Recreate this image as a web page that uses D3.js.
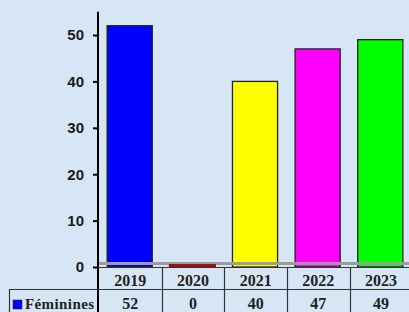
<!DOCTYPE html>
<html>
<head>
<meta charset="utf-8">
<script src="https://cdn.jsdelivr.net/npm/d3@7"></script>
<style>
  html, body { margin: 0; padding: 0; background: #d7e6f4; }
  svg { display: block; }
</style>
</head>
<body>
<svg id="chart" width="409" height="312"></svg>
<script>
// data
const years = ['2019', '2020', '2021', '2022', '2023'];
const feminines = [52, 0, 40, 47, 49];
const barColors = ['#0000ff', '#a01010', '#ffff00', '#ff00ff', '#00ff00'];
const yTicks = [0, 10, 20, 30, 40, 50];
const seriesName = 'Féminines';

const svg = d3.select('#chart');

const x = d3.scaleBand()
  .domain(years)
  .range([99, 411])
  .paddingInner(0.28)
  .paddingOuter(0.13);

const y = d3.scaleLinear()
  .domain([0, 55])
  .range([267, 267 - 55 * 4.64]);

// bars
svg.selectAll('.bar')
  .data(feminines)
  .enter()
  .append('rect')
  .attr('class', 'bar')
  .attr('x', (d, i) => x(years[i]))
  .attr('y', d => d > 0 ? y(d) : y(0) - 3)
  .attr('width', x.bandwidth())
  .attr('height', d => d > 0 ? y(0) - y(d) : 3)
  .attr('fill', (d, i) => barColors[i])
  .attr('stroke', (d, i) => d > 0 ? '#222' : '#5a0000')
  .attr('stroke-width', 1.3);

// floor strip
svg.append('rect')
  .attr('x', 99).attr('y', 262)
  .attr('width', 312).attr('height', 3)
  .attr('fill', '#9c9c9c');

// zero bar on top of floor
feminines.forEach((d, i) => {
  if (d === 0) {
    svg.append('rect')
      .attr('x', x(years[i]) - 1)
      .attr('y', y(0) - 3)
      .attr('width', x.bandwidth() + 2)
      .attr('height', 3)
      .attr('fill', barColors[i]);
  }
});

// y axis
const yAxis = svg.append('g')
  .attr('transform', 'translate(98,0)')
  .call(d3.axisLeft(y).tickValues(yTicks).tickSize(5).tickPadding(9));
yAxis.select('.domain').remove();
yAxis.selectAll('line').attr('stroke', '#000').attr('stroke-width', 2);
yAxis.selectAll('text')
  .attr('fill', '#1a1a1a')
  .style('font-family', 'Liberation Sans, Arial, sans-serif')
  .style('font-weight', 'bold')
  .style('font-size', '15px');

svg.append('line')
  .attr('x1', 98).attr('x2', 98)
  .attr('y1', y(55)).attr('y2', 312)
  .attr('stroke', '#000').attr('stroke-width', 2);

// data table
const step = x.step();
const colEdges = d3.range(years.length + 1).map(i => 99 + i * step);

svg.append('line')
  .attr('x1', 98).attr('x2', 411)
  .attr('y1', 267.5).attr('y2', 267.5)
  .attr('stroke', '#333').attr('stroke-width', 1.2);

svg.append('line')
  .attr('x1', 9).attr('x2', 411)
  .attr('y1', 289.5).attr('y2', 289.5)
  .attr('stroke', '#333').attr('stroke-width', 1.2);

svg.append('line')
  .attr('x1', 9.5).attr('x2', 9.5)
  .attr('y1', 289).attr('y2', 312)
  .attr('stroke', '#333').attr('stroke-width', 1.2);

svg.selectAll('.col-line')
  .data(colEdges.slice(1))
  .enter()
  .append('line')
  .attr('x1', d => Math.round(d) + 0.5)
  .attr('x2', d => Math.round(d) + 0.5)
  .attr('y1', 267).attr('y2', 312)
  .attr('stroke', '#333').attr('stroke-width', 1.2);

const serif = 'Liberation Serif, Times New Roman, serif';

svg.selectAll('.year-label')
  .data(years)
  .enter()
  .append('text')
  .attr('x', (d, i) => colEdges[i] + step / 2)
  .attr('y', 286)
  .attr('text-anchor', 'middle')
  .style('font-family', serif)
  .style('font-weight', 'bold')
  .style('font-size', '16px')
  .attr('fill', '#222')
  .text(d => d);

svg.selectAll('.val-label')
  .data(feminines)
  .enter()
  .append('text')
  .attr('x', (d, i) => colEdges[i] + step / 2)
  .attr('y', 309)
  .attr('text-anchor', 'middle')
  .style('font-family', serif)
  .style('font-weight', 'bold')
  .style('font-size', '16px')
  .attr('fill', '#222')
  .text(d => d);

// legend key
svg.append('rect')
  .attr('x', 13).attr('y', 300)
  .attr('width', 9).attr('height', 9)
  .attr('fill', barColors[0])
  .attr('stroke', '#333').attr('stroke-width', 0.6);

svg.append('text')
  .attr('x', 25).attr('y', 309)
  .style('font-family', serif)
  .style('font-weight', 'bold')
  .style('font-size', '15px')
  .style('letter-spacing', '0.4px')
  .attr('fill', '#222')
  .text(seriesName);
</script>
</body>
</html>
